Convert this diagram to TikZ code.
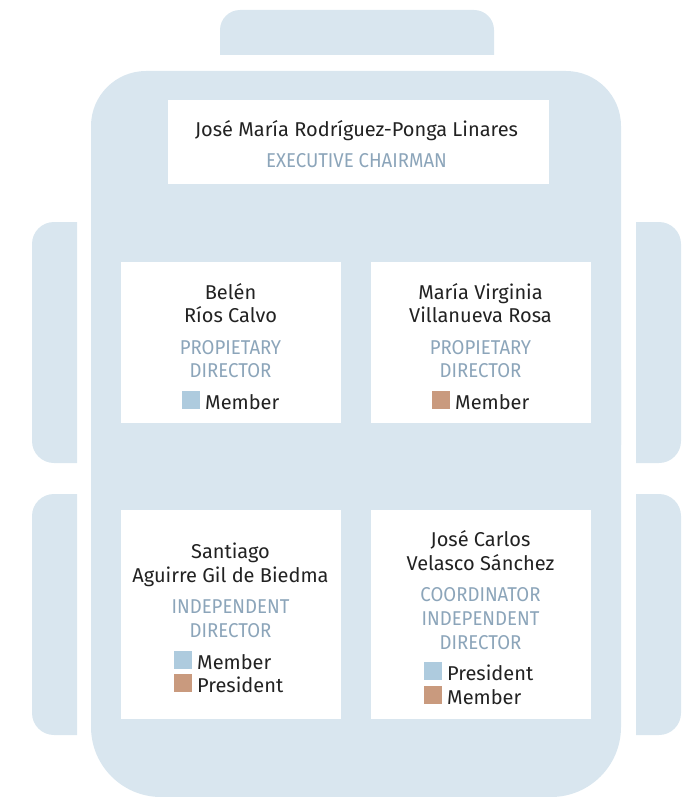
\documentclass[tikz,border=0pt]{standalone}
\usepackage{fontspec}
\setmainfont{Fira Sans}
\newfontfamily\ttlfont{Fira Sans}[FakeStretch=0.93]
\definecolor{panel}{RGB}{217,230,239}
\definecolor{namec}{RGB}{34,34,34}
\definecolor{titlec}{RGB}{140,165,186}
\definecolor{sqblue}{RGB}{174,203,222}
\definecolor{sqbrown}{RGB}{201,154,126}
\begin{document}
\begin{tikzpicture}[x=1pt,y=-1pt,
  card/.style={fill=white,draw=none,inner sep=0,minimum width=220,minimum height=161},
  nm/.style={font=\fontsize{20}{24}\selectfont,text=namec,anchor=base,inner sep=0},
  ttl/.style={font=\ttlfont\fontsize{20}{24}\selectfont,text=titlec,anchor=base,inner sep=0},
  lg/.style={font=\fontsize{20}{24}\selectfont,text=namec,anchor=base west,inner sep=0},
  sqb/.style={fill=sqblue,draw=none,inner sep=0,minimum size=18,anchor=south west},
  sqr/.style={fill=sqbrown,draw=none,inner sep=0,minimum size=18,anchor=south west}]
\useasboundingbox (0,0) rectangle (692,797);
% handle
\begin{scope}
\clip (0,0) rectangle (692,55);
\fill[panel,rounded corners=20] (220,10) rectangle (494,100);
\end{scope}
% side panels
\begin{scope}
\clip (0,0) rectangle (77,797);
\fill[panel,rounded corners=22] (32,222) rectangle (120,463);
\fill[panel,rounded corners=22] (32,494) rectangle (120,735);
\end{scope}
\begin{scope}
\clip (636,0) rectangle (692,797);
\fill[panel,rounded corners=22] (590,222) rectangle (681,463);
\fill[panel,rounded corners=22] (590,494) rectangle (681,735);
\end{scope}
% body
\fill[panel,rounded corners=55] (91,71) rectangle (621,500);
\fill[panel,rounded corners=70] (91,300) rectangle (621,797);
% cards
\node[card,minimum width=381,minimum height=83] (top) at (358.5,142) {};
\node[card] (c1) at (230.5,342.5) {};
\node[card] (c2) at (480.5,342.5) {};
\node[card,minimum height=209] (c3) at (230.5,614.5) {};
\node[card,minimum height=209] (c4) at (480.5,614.5) {};
% top card
\node[nm] (topn) at (356.5,136.5) {José María Rodríguez-Ponga Linares};
\node[ttl] (topt) at (356.5,167.5) {EXECUTIVE CHAIRMAN};
% card 1
\node[nm] (n1a) at (230.5,299) {Belén};
\node[nm] (n1b) at (230.5,322) {Ríos Calvo};
\node[ttl] (t1a) at (230.5,354) {PROPIETARY};
\node[ttl] (t1b) at (230.5,377) {DIRECTOR};
\node[sqb] (s1) at (182,409) {};
\node[lg] (l1) at (205,409) {Member};
% card 2
\node[nm] (n2a) at (480.5,299) {María Virginia};
\node[nm] (n2b) at (480.5,322) {Villanueva Rosa};
\node[ttl] (t2a) at (480.5,354) {PROPIETARY};
\node[ttl] (t2b) at (480.5,377) {DIRECTOR};
\node[sqr] (s2) at (432,409) {};
\node[lg] (l2) at (455,409) {Member};
% card 3
\node[nm] (n3a) at (230.5,558) {Santiago};
\node[nm] (n3b) at (230.5,582) {Aguirre Gil de Biedma};
\node[ttl] (t3a) at (230.5,613) {INDEPENDENT};
\node[ttl] (t3b) at (230.5,637) {DIRECTOR};
\node[sqb] (s3a) at (174,669) {};
\node[lg] (l3a) at (197,669) {Member};
\node[sqr] (s3b) at (174,692.5) {};
\node[lg] (l3b) at (197,692.5) {President};
% card 4
\node[nm] (n4a) at (480.5,546) {José Carlos};
\node[nm] (n4b) at (480.5,570) {Velasco Sánchez};
\node[ttl] (t4a) at (480.5,601) {COORDINATOR};
\node[ttl] (t4b) at (480.5,625) {INDEPENDENT};
\node[ttl] (t4c) at (480.5,649) {DIRECTOR};
\node[sqb] (s4a) at (424,680.5) {};
\node[lg] (l4a) at (447,680.5) {President};
\node[sqr] (s4b) at (424,704.5) {};
\node[lg] (l4b) at (447,704.5) {Member};
\end{tikzpicture}
\end{document}
